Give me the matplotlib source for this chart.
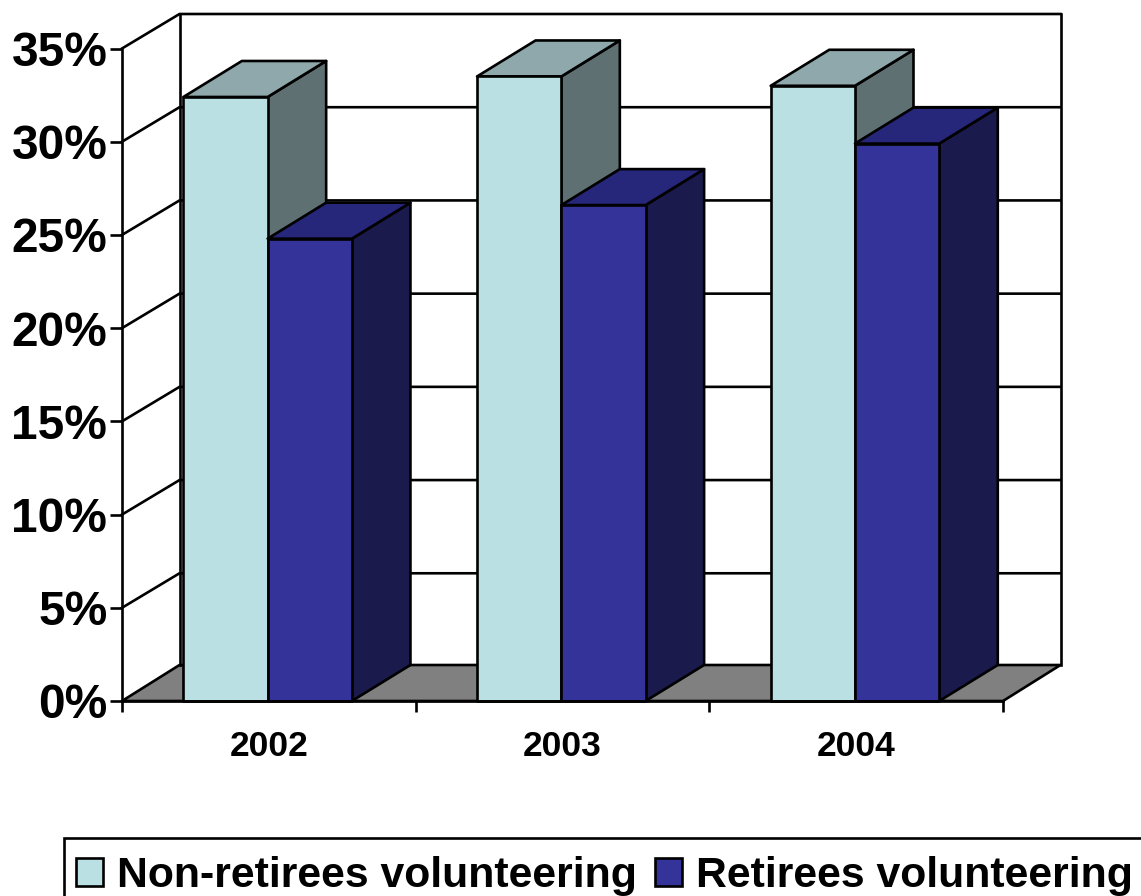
import matplotlib
matplotlib.use('Agg')
import matplotlib.pyplot as plt
from matplotlib.patches import Polygon, Patch, Rectangle

plt.rcParams['font.family'] = ['Liberation Sans', 'DejaVu Sans']
plt.rcParams['font.weight'] = 'bold'

years = ['2002', '2003', '2004']
non_retirees = [32.4, 33.5, 33.0]
retirees = [24.8, 26.6, 29.9]
y_ticks = [0, 5, 10, 15, 20, 25, 30, 35]
labels = ['Non-retirees volunteering', 'Retirees volunteering']

W, H = 1141, 896
fig = plt.figure(figsize=(W / 100, H / 100), dpi=100)
ax = fig.add_axes([122 / W, 1 - 701 / H, (1003 - 122) / W, (701 - 48.5) / H])
ax.set_xlim(0, 3)
ax.set_ylim(0, 35)

# depth of the fake 3d box, in data units
dx = 58.5 / (881 / 3)
dy = 36 / (652.5 / 35)
# back wall sits a bit closer than the bars' depth
wall_dx = 57.5 / (881 / 3)
wall_dy = 34.5 / (652.5 / 35)
# bar offset and width within one category
off = 0.209
bw = 0.287
lw = 1.9


def poly(pts, color, z):
    ax.add_patch(Polygon(pts, closed=True, facecolor=color, edgecolor='black',
                         linewidth=lw, zorder=z, clip_on=False, joinstyle='round'))


def bar3d(x, v, front, top, side, z):
    poly([(x + bw, 0), (x + bw + dx, dy), (x + bw + dx, v + dy), (x + bw, v)], side, z)
    poly([(x, v), (x + dx, v + dy), (x + bw + dx, v + dy), (x + bw, v)], top, z)
    poly([(x, 0), (x + bw, 0), (x + bw, v), (x, v)], front, z + 0.1)


# floor and walls
poly([(0, 0), (wall_dx, dy), (3 + wall_dx, dy), (3, 0)], '#808080', 1)
ax.plot([wall_dx, wall_dx], [dy, 35 + wall_dy], color='black', lw=lw, clip_on=False, zorder=2)
ax.plot([3 + wall_dx, 3 + wall_dx], [dy, 35 + wall_dy], color='black', lw=lw, clip_on=False, zorder=2)
for t in y_ticks[1:]:
    ax.plot([0, wall_dx, 3 + wall_dx], [t, t + wall_dy, t + wall_dy], color='black', lw=lw,
            clip_on=False, zorder=2)

for i in range(len(years)):
    bar3d(i + off, non_retirees[i], '#BBE0E3', '#8FA8AB', '#5F7073', 3 + i * 2)
    bar3d(i + off + bw, retirees[i], '#333399', '#26267A', '#1A1A4D', 4 + i * 2)

for s in ['top', 'right']:
    ax.spines[s].set_visible(False)
for s in ['left', 'bottom']:
    ax.spines[s].set_linewidth(lw)
    ax.spines[s].set_zorder(20)

ax.set_yticks(y_ticks)
ax.set_yticklabels(['%d%%' % t for t in y_ticks], fontsize=34.5, fontweight='bold')
ax.tick_params(axis='y', length=8.6, width=lw, pad=2)
ax.set_xticks([0, 1, 2, 3])
ax.set_xticklabels([])
ax.tick_params(axis='x', length=8, width=lw)
ax.set_xticks([0.5, 1.5, 2.5], minor=True)
ax.set_xticklabels(years, minor=True, fontsize=25.5, fontweight='bold')
ax.tick_params(axis='x', which='minor', length=0, pad=21)

# legend frame runs off the right and bottom of the picture
fig.add_artist(Rectangle((64 / W, -0.02), (W + 20 - 64) / W, 1 - 838 / H + 0.02,
                         transform=fig.transFigure, facecolor='white', edgecolor='black',
                         linewidth=lw, clip_on=False))

handles = [Patch(facecolor='#BBE0E3', edgecolor='black', linewidth=lw),
           Patch(facecolor='#333399', edgecolor='black', linewidth=lw)]
leg = fig.legend(handles, labels, loc='upper left', bbox_to_anchor=(76 / W, 1 - 856 / H),
                 bbox_transform=fig.transFigure, ncol=2,
                 frameon=False, borderaxespad=0, borderpad=0, handlelength=0.63, handleheight=0.6,
                 handletextpad=0.33, columnspacing=0.43,
                 prop={'weight': 'bold', 'size': 30.8})

fig.savefig('out.png', dpi=100)
